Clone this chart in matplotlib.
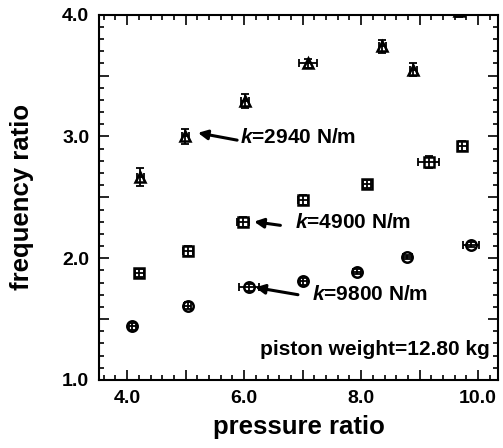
import numpy as np
import matplotlib
matplotlib.use("Agg")
import matplotlib.pyplot as plt
from matplotlib.ticker import MultipleLocator

plt.rcParams['font.family'] = ['Liberation Sans', 'DejaVu Sans']
plt.rcParams['font.weight'] = 'bold'
plt.rcParams['mathtext.fontset'] = 'custom'
plt.rcParams['mathtext.it'] = 'Liberation Sans:bold:italic'
plt.rcParams['mathtext.rm'] = 'Liberation Sans:bold'

# k = 2940 N/m
p1 = [4.22, 4.99, 6.02, 7.09, 8.36, 8.89, 9.68]
f1 = [2.67, 3.00, 3.29, 3.60, 3.74, 3.55, 4.03]
p1_err = [0.06, 0.06, 0.07, 0.16, 0.06, 0.06, 0.06]
f1_err = [0.075, 0.06, 0.06, 0.04, 0.05, 0.05, 0.05]

# k = 4900 N/m
p2 = [4.21, 5.04, 5.98, 7.01, 8.10, 9.16, 9.73]
f2 = [1.88, 2.06, 2.30, 2.48, 2.61, 2.79, 2.92]
p2_err = [0.07, 0.09, 0.10, 0.09, 0.07, 0.18, 0.08]
f2_err = [0.035, 0.04, 0.04, 0.04, 0.035, 0.05, 0.04]

# k = 9800 N/m
p3 = [4.09, 5.04, 6.09, 7.01, 7.93, 8.79, 9.88]
f3 = [1.44, 1.61, 1.76, 1.81, 1.89, 2.01, 2.11]
p3_err = [0.06, 0.06, 0.17, 0.06, 0.07, 0.08, 0.14]
f3_err = [0.03, 0.03, 0.03, 0.03, 0.02, 0.02, 0.02]

fig = plt.figure(figsize=(5.03, 4.48), dpi=100)
ax = fig.add_axes([0.197, 0.152, 0.793, 0.815])

series = [(p1, f1, p1_err, f1_err, '^'),
          (p2, f2, p2_err, f2_err, 's'),
          (p3, f3, p3_err, f3_err, 'o')]
for x, y, xe, ye, m in series:
    ax.plot(x, y, m, ms=7.5, mfc='white', mec='black', mew=1.8, zorder=2)
    ax.errorbar(x, y, xerr=xe, yerr=ye, fmt='none', ecolor='black',
                elinewidth=1.3, capsize=3, capthick=1.3, zorder=3)

arrow = dict(arrowstyle='-|>', color='black', lw=2.2, mutation_scale=14,
             shrinkA=0, shrinkB=0)
ax.annotate('', xy=(5.21, 3.03), xytext=(5.88, 2.97), arrowprops=arrow)
ax.annotate('', xy=(6.17, 2.30), xytext=(6.62, 2.27), arrowprops=arrow)
ax.annotate('', xy=(6.19, 1.76), xytext=(6.92, 1.70), arrowprops=arrow)
ax.text(5.93, 2.99, r'$k$=2940 N/m', fontsize=15, va='center')
ax.text(6.87, 2.29, r'$k$=4900 N/m', fontsize=15, va='center')
ax.text(7.16, 1.70, r'$k$=9800 N/m', fontsize=15, va='center')
ax.text(10.2, 1.25, 'piston weight=12.80 kg', fontsize=15, ha='right', va='center')

ax.set_xlim(3.52, 10.34)
ax.set_ylim(1.0, 4.0)
ax.xaxis.set_minor_locator(MultipleLocator(0.2))
ax.yaxis.set_minor_locator(MultipleLocator(0.1))
ax.set_xticks(np.arange(4, 11, 1))
ax.set_xticklabels(['4.0', '', '6.0', '', '8.0', '', '10.0'])
ax.set_yticks(np.arange(1.0, 4.01, 0.5))
ax.set_yticklabels(['1.0', '', '2.0', '', '3.0', '', '4.0'])
ax.tick_params(which='both', direction='in', top=True, right=True, width=1.2)
ax.tick_params(which='major', length=7, labelsize=14, pad=7)
ax.tick_params(which='minor', length=3.5)
for s in ax.spines.values():
    s.set_linewidth(1.5)

ax.set_xlabel('pressure ratio', fontsize=18.5, fontweight='bold', labelpad=6)
ax.set_ylabel('frequency ratio', fontsize=18.5, fontweight='bold', labelpad=20)

fig.savefig('out.png', dpi=100)
